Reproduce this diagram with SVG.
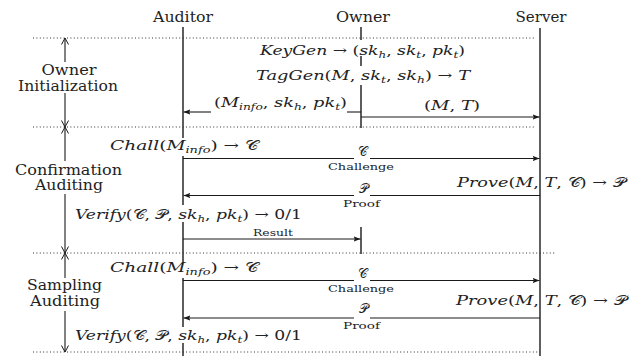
<svg xmlns="http://www.w3.org/2000/svg" width="638" height="356" viewBox="0 0 638 356" font-family="'DejaVu Serif', serif">
<defs>
<style>
.ln{stroke:#1a1a1a;stroke-width:1.1;fill:none}
.life{stroke:#1a1a1a;stroke-width:1.4;fill:none}
.dot{stroke:#333;stroke-width:1;stroke-dasharray:1 2.4;fill:none}
.msg{stroke:#1a1a1a;stroke-width:1.1;fill:none;marker-end:url(#ah)}
.ph{stroke:#1a1a1a;stroke-width:1.1;fill:none;marker-end:url(#oh)}
.t{font-family:'DejaVu Serif',serif;fill:#222}
.hd{font-size:14px}
.lb{font-size:14px}
.m{font-size:13px}
.i{font-style:italic}
.s{font-size:9px;font-style:italic}
.sm{font-size:10px}
.cal{font-family:'DejaVu Serif','Noto Sans',serif;font-style:normal}
</style>
<marker id="ah" viewBox="0 0 8 6" refX="8" refY="3" markerWidth="7" markerHeight="5.2" markerUnits="userSpaceOnUse" orient="auto">
<path d="M0,0 L8,3 L0,6 L1.5,3 z" fill="#1a1a1a"/>
</marker>
<marker id="oh" viewBox="0 0 7 8" refX="6.5" refY="4" markerWidth="7" markerHeight="8" markerUnits="userSpaceOnUse" orient="auto" overflow="visible">
<path d="M0,0.5 L6.5,4 L0,7.5" fill="none" stroke="#1a1a1a" stroke-width="1"/>
</marker>
</defs>
<rect width="638" height="356" fill="#fff"/>

<g id="connectors">
<path class="life" d="M183,27 V138 M183,156 V205 M183,222 V262 M183,278 V327 M183,343 V356"/>
<path class="life" d="M361,27 V40 M361,56 V66 M361,85 V128 M361,227 V254"/>
<path class="life" d="M540,28 V356"/>
<path class="dot" d="M33,38 H536"/>
<path class="dot" d="M33,127 H536"/>
<path class="dot" d="M33,253 H555"/>
<path class="dot" d="M33,352 H540"/>
<path class="ph" d="M65,62 V38"/>
<path class="ph" d="M65,93 V127"/>
<path class="ph" d="M65,161 V127"/>
<path class="ph" d="M65,194 V253"/>
<path class="ph" d="M65,278 V253"/>
<path class="ph" d="M65,311 V352"/>
<path class="ln" d="M361,112 H347"/>
<path class="msg" d="M211,112 H183.5"/>
<path class="msg" d="M361,117 H539.5"/>
<path class="ln" d="M183,158.5 H354"/>
<path class="msg" d="M370,158.5 H539.5"/>
<path class="ln" d="M540,195.5 H370"/>
<path class="msg" d="M354,195.5 H183.5"/>
<path class="msg" d="M183,239 H360.5"/>
<path class="ln" d="M183,280.5 H354"/>
<path class="msg" d="M370,280.5 H539.5"/>
<path class="ln" d="M540,318 H370"/>
<path class="msg" d="M354,318 H183.5"/>
</g>

<g id="auditor"><text class="t hd" x="183" y="22" text-anchor="middle" textLength="60" lengthAdjust="spacingAndGlyphs">Auditor</text></g>
<g id="owner"><text class="t hd" x="363" y="22" text-anchor="middle" textLength="54" lengthAdjust="spacingAndGlyphs">Owner</text></g>
<g id="server"><text class="t hd" x="541" y="22" text-anchor="middle" textLength="51" lengthAdjust="spacingAndGlyphs">Server</text></g>

<g id="phase-owner-init">
<text class="t lb" x="69" y="75" text-anchor="middle" textLength="55" lengthAdjust="spacingAndGlyphs">Owner</text>
<text class="t lb" x="68" y="91" text-anchor="middle" textLength="100" lengthAdjust="spacingAndGlyphs">Initialization</text>
</g>
<g id="phase-confirmation">
<text class="t lb" x="68.5" y="175" text-anchor="middle" textLength="107" lengthAdjust="spacingAndGlyphs">Confirmation</text>
<text class="t lb" x="69" y="190" text-anchor="middle" textLength="68" lengthAdjust="spacingAndGlyphs">Auditing</text>
</g>
<g id="phase-sampling">
<text class="t lb" x="64.5" y="290" text-anchor="middle" textLength="75" lengthAdjust="spacingAndGlyphs">Sampling</text>
<text class="t lb" x="65" y="306" text-anchor="middle" textLength="70" lengthAdjust="spacingAndGlyphs">Auditing</text>
</g>

<g id="keygen">
<text class="t m" x="260" y="55" textLength="205" lengthAdjust="spacingAndGlyphs"><tspan class="i">KeyGen</tspan> → (<tspan class="i">sk</tspan><tspan class="s" dy="3">h</tspan><tspan dy="-3">, </tspan><tspan class="i">sk</tspan><tspan class="s" dy="3">t</tspan><tspan dy="-3">, </tspan><tspan class="i">pk</tspan><tspan class="s" dy="3">t</tspan><tspan dy="-3">)</tspan></text>
</g>
<g id="taggen">
<text class="t m" x="256" y="80" textLength="214" lengthAdjust="spacingAndGlyphs"><tspan class="i">TagGen</tspan>(<tspan class="i">M</tspan>, <tspan class="i">sk</tspan><tspan class="s" dy="3">t</tspan><tspan dy="-3">, </tspan><tspan class="i">sk</tspan><tspan class="s" dy="3">h</tspan><tspan dy="-3">) → </tspan><tspan class="i">T</tspan></text>
</g>
<g id="msg-minfo">
<text class="t m" x="214" y="107" textLength="133" lengthAdjust="spacingAndGlyphs">(<tspan class="i">M</tspan><tspan class="s" dy="3">info</tspan><tspan dy="-3">, </tspan><tspan class="i">sk</tspan><tspan class="s" dy="3">h</tspan><tspan dy="-3">, </tspan><tspan class="i">pk</tspan><tspan class="s" dy="3">t</tspan><tspan dy="-3">)</tspan></text>
</g>
<g id="msg-mt">
<text class="t m" x="424" y="110" textLength="56" lengthAdjust="spacingAndGlyphs">(<tspan class="i">M</tspan>, <tspan class="i">T</tspan>)</text>
</g>

<g id="chall1">
<text class="t m" x="110" y="150" textLength="148" lengthAdjust="spacingAndGlyphs"><tspan class="i">Chall</tspan>(<tspan class="i">M</tspan><tspan class="s" dy="3">info</tspan><tspan dy="-3">) → </tspan><tspan class="cal">𝒞</tspan></text>
</g>
<g id="challenge1">
<text class="t m" x="362" y="156" text-anchor="middle"><tspan class="cal">𝒞</tspan></text>
<text class="t sm" x="361" y="170" text-anchor="middle" textLength="66" lengthAdjust="spacingAndGlyphs">Challenge</text>
</g>
<g id="prove1">
<text class="t m" x="457" y="187" textLength="168" lengthAdjust="spacingAndGlyphs"><tspan class="i">Prove</tspan>(<tspan class="i">M</tspan>, <tspan class="i">T</tspan>, <tspan class="cal">𝒞</tspan>) → <tspan class="cal">𝒫</tspan></text>
</g>
<g id="proof1">
<text class="t m" x="363" y="193" text-anchor="middle"><tspan class="cal">𝒫</tspan></text>
<text class="t sm" x="361.5" y="207" text-anchor="middle" textLength="37" lengthAdjust="spacingAndGlyphs">Proof</text>
</g>
<g id="verify1">
<text class="t m" x="75" y="219" textLength="227" lengthAdjust="spacingAndGlyphs"><tspan class="i">Verify</tspan>(<tspan class="cal">𝒞</tspan>, <tspan class="cal">𝒫</tspan>, <tspan class="i">sk</tspan><tspan class="s" dy="3">h</tspan><tspan dy="-3">, </tspan><tspan class="i">pk</tspan><tspan class="s" dy="3">t</tspan><tspan dy="-3">) → 0/1</tspan></text>
</g>
<g id="result">
<text class="t sm" x="273" y="236" text-anchor="middle" textLength="40" lengthAdjust="spacingAndGlyphs">Result</text>
</g>

<g id="chall2">
<text class="t m" x="110" y="272" textLength="148" lengthAdjust="spacingAndGlyphs"><tspan class="i">Chall</tspan>(<tspan class="i">M</tspan><tspan class="s" dy="3">info</tspan><tspan dy="-3">) → </tspan><tspan class="cal">𝒞</tspan></text>
</g>
<g id="challenge2">
<text class="t m" x="362" y="278" text-anchor="middle"><tspan class="cal">𝒞</tspan></text>
<text class="t sm" x="361" y="292" text-anchor="middle" textLength="66" lengthAdjust="spacingAndGlyphs">Challenge</text>
</g>
<g id="prove2">
<text class="t m" x="456" y="305" textLength="170" lengthAdjust="spacingAndGlyphs"><tspan class="i">Prove</tspan>(<tspan class="i">M</tspan>, <tspan class="i">T</tspan>, <tspan class="cal">𝒞</tspan>) → <tspan class="cal">𝒫</tspan></text>
</g>
<g id="proof2">
<text class="t m" x="363" y="313" text-anchor="middle"><tspan class="cal">𝒫</tspan></text>
<text class="t sm" x="361.5" y="329" text-anchor="middle" textLength="37" lengthAdjust="spacingAndGlyphs">Proof</text>
</g>
<g id="verify2">
<text class="t m" x="75" y="340" textLength="227" lengthAdjust="spacingAndGlyphs"><tspan class="i">Verify</tspan>(<tspan class="cal">𝒞</tspan>, <tspan class="cal">𝒫</tspan>, <tspan class="i">sk</tspan><tspan class="s" dy="3">h</tspan><tspan dy="-3">, </tspan><tspan class="i">pk</tspan><tspan class="s" dy="3">t</tspan><tspan dy="-3">) → 0/1</tspan></text>
</g>
</svg>
